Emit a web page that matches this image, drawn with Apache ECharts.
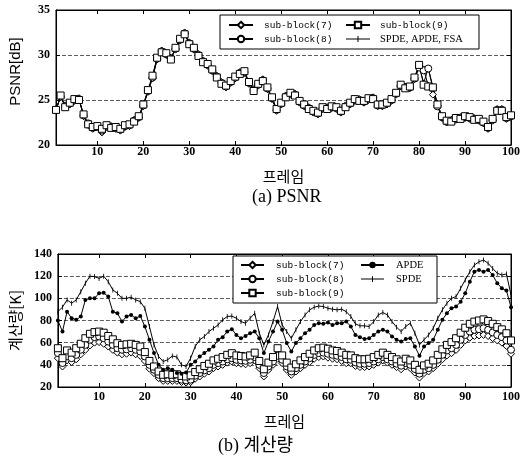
<!DOCTYPE html>
<html>
<head>
<meta charset="utf-8">
<script src="https://cdn.jsdelivr.net/npm/echarts@6/dist/echarts.min.js"></script>
<style>html,body{margin:0;padding:0;background:#fff}#c{width:523px;height:461px}</style>
</head>
<body>
<div id="c"></div>
<script>
// ---------- DATA ----------
const frames = Array.from({length: 100}, (_, i) => i + 1);
const xTickLabels = [10, 20, 30, 40, 50, 60, 70, 80, 90, 100];

// (a) PSNR [dB]
const psnrSub7 = [24.0,25.3,24.4,24.5,24.9,25.2,23.2,22.2,21.8,22.1,
 21.4,22.0,22.1,21.8,21.6,22.0,22.1,22.8,23.0,24.3,
 25.9,27.4,29.5,30.5,30.0,29.7,30.6,31.6,32.5,31.4,
 30.6,30.1,29.4,28.8,28.2,27.7,27.0,26.4,26.9,27.4,
 28.1,28.0,26.8,26.2,26.6,27.3,26.2,25.1,23.8,24.5,
 25.5,25.6,25.7,24.7,24.3,24.2,23.6,23.4,24.0,24.2,
 24.1,24.0,23.6,24.4,24.5,24.9,25.1,24.7,25.0,25.3,
 24.3,24.3,24.5,24.9,25.6,26.5,26.5,26.3,27.3,28.7,
 28.4,26.6,25.6,24.4,23.0,22.5,22.8,22.8,23.1,23.0,
 22.9,23.0,22.7,22.4,21.8,22.7,24.0,24.0,22.9,23.1];
const psnrSub8 = [23.9,25.4,24.3,24.6,25.0,25.1,23.3,22.4,21.9,22.0,
 21.6,22.1,22.0,21.9,21.7,22.1,22.2,22.7,23.1,24.4,
 26.0,27.5,29.6,30.4,30.1,29.6,30.7,31.7,32.4,31.3,
 30.7,30.0,29.3,28.9,28.3,27.6,26.9,26.5,27.0,27.5,
 28.0,28.1,26.9,26.1,26.7,27.2,26.3,25.2,23.9,24.6,
 25.4,25.7,25.6,24.8,24.4,24.1,23.7,23.5,24.1,24.1,
 24.2,24.1,23.7,24.3,24.6,25.0,25.0,24.8,25.1,25.2,
 24.4,24.4,24.6,25.0,25.7,26.6,26.4,26.4,27.4,28.6,
 28.3,28.5,26.3,24.3,23.1,22.6,22.7,22.9,23.0,23.1,
 23.0,22.9,22.8,22.5,21.9,22.8,23.9,23.9,23.0,23.2];
const psnrSub9 = [23.9,25.5,24.2,24.7,25.1,25.0,23.4,22.3,22.0,22.1,
 21.8,22.2,21.9,22.0,21.8,22.2,22.3,22.6,23.2,24.5,
 26.1,27.7,29.7,30.3,30.2,29.5,30.8,31.8,32.3,31.2,
 30.8,29.9,29.2,29.0,28.4,27.5,26.8,26.6,27.1,27.6,
 27.9,28.2,27.0,26.0,26.8,27.1,26.4,25.3,24.0,24.7,
 25.3,25.8,25.5,24.9,24.5,24.0,23.8,23.6,24.2,24.0,
 24.3,24.2,23.8,24.2,24.7,25.1,24.9,24.9,25.2,25.1,
 24.5,24.5,24.7,25.1,25.8,26.7,26.3,26.5,27.5,28.9,
 26.7,26.5,26.4,24.5,23.2,22.7,22.6,23.0,22.9,23.2,
 23.1,22.8,22.9,22.6,22.0,22.9,23.8,23.8,23.1,23.3];
const psnrFull = [23.9,25.4,24.3,24.6,25.0,25.1,23.3,22.3,21.9,22.0,
 21.6,22.1,22.0,21.9,21.7,22.1,22.2,22.7,23.1,24.4,
 26.0,27.6,29.6,30.4,30.1,29.6,30.7,31.7,32.4,31.3,
 30.7,30.0,29.3,28.9,28.3,27.6,26.9,26.5,27.0,27.5,
 28.0,28.1,26.9,26.1,26.7,27.2,26.3,25.2,23.9,24.6,
 25.4,25.7,25.6,24.8,24.4,24.1,23.7,23.5,24.1,24.1,
 24.2,24.1,23.7,24.3,24.6,25.0,25.0,24.8,25.1,25.2,
 24.4,24.4,24.6,25.0,25.7,26.6,26.4,26.4,27.4,28.8,
 26.9,28.5,26.5,24.6,23.1,22.6,22.7,22.9,23.0,23.1,
 23.0,22.9,22.8,22.5,21.9,22.8,23.9,23.9,23.0,23.2];

// (b) computation [K]
const compSub7 = [46,38.5,44,42.5,45,49.5,53.5,57.5,60,60.5,
 59,56.5,53.5,51,49.5,50,51,49.5,48,43.5,
 36.5,32.5,28,25.5,25.5,25.5,25.5,24.5,24,24.5,
 27.5,29.5,32,34,37,38.5,40,42,43,41.5,
 41,40.5,41.5,44,37,29.5,35.5,40,45.5,41.5,
 35.5,31,34,37,40,42.5,45.5,47,47.5,46.5,
 45.5,45,43.5,41.5,41.5,39,38,38,38.5,40,
 42,44,42,40,38,36,38.5,37,33,28.5,
 32.5,34,37,41,45,48.5,50.5,53.5,58,62,
 64.5,66,66.5,67,66,64,62,60,57,50];
const compSub8 = [50.6,41.6,47.6,46,49,53.6,58,62.6,65,65.6,
 64,61,58,55,53.6,54,55,53.6,52,47.6,
 40,35.6,31,28,28,28,28,26.6,26,26.6,
 30.2,32.6,35,37,40,41.6,43,45,46,44.6,
 44,43.6,44.6,47,40,32.6,38.6,43,48.2,44.6,
 38.6,34,37,40,43,46,49,50.6,51,50,
 49,48.2,47,45,44.6,42.2,41,41,41.6,43,
 45,47,45,43,41,39.2,41.6,40,36.2,32,
 35.6,37,40,44.6,49,53,55,58,62.6,67,
 70,71.6,72.2,73,71.6,69.2,67,65,62,53.6];
const compSub9 = [55,46,53,51,55,59,64,68,69.5,70,
 69,66,63,59.5,58,58.5,59,58,56.5,51.5,
 43.5,38.5,34,31,31.5,31,31.5,30,29.5,30.5,
 33.5,36,39,41,44,45.5,47,49,50.5,48.5,
 48,47.5,48.5,51,43.5,36,42,47,55,48.5,
 42,37.5,40.5,44,47,50,53,55,55.5,54.5,
 53,52.5,51,49,48.5,46,45,45,45.5,47,
 49,51,49,47,45,43,45.5,44,40,35.5,
 39.5,41,44,49,54,58,60.5,64,69,73.5,
 77,79,80,81,79.5,77,74,72,68.5,62];
const compAPDE = [80,70,88,82,80.6,83.6,98.6,100,100,104.6,
 105,101.6,88,86.6,79,83.6,85,82,84,74.6,
 62.6,50.6,40,35.6,37,35.6,32.6,32,33,40,
 43,47.6,50.6,53.6,56.6,62.6,65,70,72.2,67,
 64,66,68.6,70,64,50.6,61,70,79,71.6,
 59.6,52,59.6,64,68.6,71.6,76,77.6,77,78.2,
 76,77.6,77.6,79,74.6,67,65,63.2,64,67,
 70,71.6,70,65.6,62.6,61,63.2,64,56.6,48.2,
 56.6,59.6,62.6,71.6,80.6,86.6,91,92.6,97,104.6,
 115,124,125.6,124,125.6,121,113.6,109,107,92];
const compSPDE = [88,92,98.6,95.6,98.6,106,113.6,120,119.6,118,
 120,115,107.6,104.6,100,100,101,98.6,97,91,
 74.6,58,47.6,43,44.6,48,47,40,38.6,46,
 56.6,62.6,65.6,70,73,76,80.6,83.6,84,82,
 79,77.6,82,86.6,68.6,58,67,79,92.6,76,
 70,64,71.6,79,85,89.6,92,93,92.6,91,
 90.2,89.6,90.2,88,83.6,77,75.2,75.2,74.6,79,
 85,87.2,85,79,74,70,74.6,77.6,68.6,58,
 62.6,67,73,82,89.6,95.6,100,101.6,109,116.6,
 124,130,133,134.6,131.6,127,122.6,121,122,103];

// ---------- CHART ----------
const pairs = vals => vals.map((v, i) => [frames[i], v]);
const chart = echarts.init(document.getElementById('c'), null, {renderer: 'canvas'});
const BLACK = '#000';
const TICK = 'path://M0,0h1v6h-1z';
const TICK_LEGEND = 'path://M0,3h24v1h-24zM11.5,0.5h1v6h-1z';
const numFont = {color: BLACK, fontFamily: 'Liberation Serif', fontWeight: 'bold', fontSize: 12};
const gridLine = {show: true, lineStyle: {color: '#333', type: [4, 2], width: 0.8}};

function xMain(gi, margin, name) {
  return {type: 'value', gridIndex: gi, min: 1, max: 100, position: 'bottom',
    axisLine: {lineStyle: {color: BLACK}},
    axisTick: {inside: true, length: 4, customValues: xTickLabels, lineStyle: {color: BLACK}},
    axisLabel: Object.assign({margin: margin, customValues: xTickLabels}, numFont),
    splitLine: {show: false},
    name: name, nameLocation: 'middle', nameGap: margin + 23,
    nameTextStyle: {color: BLACK, fontFamily: 'Noto Sans CJK KR', fontSize: 15}};
}
function xMirror(gi) {
  return {type: 'value', gridIndex: gi, min: 1, max: 100, position: 'top',
    axisLine: {lineStyle: {color: BLACK}},
    axisTick: {inside: true, length: 4, customValues: xTickLabels, lineStyle: {color: BLACK}},
    axisLabel: {show: false}, splitLine: {show: false}};
}
function yMain(gi, min, max, interval, name, font, shift) {
  return {type: 'value', gridIndex: gi, min: min, max: max, interval: interval, position: 'left',
    axisLine: {show: true, lineStyle: {color: BLACK}},
    axisTick: {show: true, inside: true, length: 4, lineStyle: {color: BLACK}},
    axisLabel: Object.assign({margin: 6}, numFont),
    splitLine: gridLine,
    name: name, nameLocation: 'middle', nameGap: 33,
    nameTextStyle: {color: BLACK, fontFamily: font, fontSize: 15, padding: [0, 0, 0, shift]}};
}
function yMirror(gi, min, max, interval) {
  return {type: 'value', gridIndex: gi, min: min, max: max, interval: interval, position: 'right',
    axisLine: {show: true, lineStyle: {color: BLACK}},
    axisTick: {show: true, inside: true, length: 4, lineStyle: {color: BLACK}},
    axisLabel: {show: false}, splitLine: {show: false}};
}
function hollow(name, data, symbol, xi, yi) {
  return {name: name, type: 'line', xAxisIndex: xi, yAxisIndex: yi, data: pairs(data),
    symbol: symbol, symbolSize: 7, showAllSymbol: true,
    lineStyle: {color: BLACK, width: 1},
    itemStyle: {color: '#fff', borderColor: BLACK, borderWidth: 1}};
}
function ticked(name, data, symbol, size, xi, yi) {
  return {name: name, type: 'line', xAxisIndex: xi, yAxisIndex: yi, data: pairs(data),
    symbol: symbol, symbolSize: size, symbolKeepAspect: true, showAllSymbol: true,
    lineStyle: {color: BLACK, width: 1},
    itemStyle: {color: BLACK, borderColor: BLACK, borderWidth: 0}};
}
const monoTxt = {fontFamily: 'Liberation Mono', fontSize: 9.5, color: BLACK};
const serifTxt = {fontFamily: 'Liberation Serif', fontSize: 10.5, color: BLACK};
function legendCol(names, left, top, itemWidth, pad) {
  return {data: names, left: left, top: top, orient: 'vertical', itemWidth: itemWidth, itemHeight: 8,
    itemGap: 2, z: 6, selectedMode: false, padding: 0, symbolKeepAspect: true,
    formatter: n => (n.indexOf('sub') === 0 ? '{m|' + n + '}' : '{s|' + n + '}'),
    textStyle: {lineHeight: 12, padding: [0, 0, 0, pad],
      rich: {m: Object.assign({lineHeight: 12}, monoTxt), s: Object.assign({lineHeight: 12}, serifTxt)}}};
}

chart.setOption({
  animation: false,
  backgroundColor: '#fff',
  grid: [
    {left: 53, top: 10, width: 462, height: 135, show: true, borderColor: BLACK, borderWidth: 1, backgroundColor: '#fff'},
    {left: 53, top: 254, width: 462, height: 133, show: true, borderColor: BLACK, borderWidth: 1, backgroundColor: '#fff'}
  ],
  xAxis: [xMain(0, 1, '프레임'), xMirror(0), xMain(1, 4, '프레임'), xMirror(1)],
  yAxis: [yMain(0, 20, 35, 5, 'PSNR[dB]', 'Liberation Sans', 12), yMirror(0, 20, 35, 5),
          yMain(1, 20, 140, 20, '계산량[K]', 'Noto Sans CJK KR', 0), yMirror(1, 20, 140, 20)],
  legend: [
    legendCol(['sub-block(7)', 'sub-block(8)'], 228, 19, 24, 6),
    legendCol(['sub-block(9)', {name: 'SPDE, APDE, FSA', icon: TICK_LEGEND}], 345, 19, 24, 5),
    legendCol(['sub-block(7)', 'sub-block(8)', 'sub-block(9)'], 240, 259, 23, 7),
    legendCol(['APDE', {name: 'SPDE', icon: TICK_LEGEND}], 360, 259, 23, 7)
  ],
  graphic: [
    {type: 'rect', z: 5, shape: {x: 220, y: 15, width: 259, height: 34}, style: {fill: '#fff', stroke: BLACK, lineWidth: 1}},
    {type: 'rect', z: 5, shape: {x: 233, y: 256, width: 204, height: 47}, style: {fill: '#fff', stroke: BLACK, lineWidth: 1}},
    {type: 'text', z: 5, left: 252, top: 188, style: {text: '(a) PSNR', font: "18px 'Liberation Serif'", fill: BLACK}},
    {type: 'text', z: 5, left: 218, top: 437, style: {text: '(b) 계산량', font: "18px 'Liberation Serif', 'Noto Sans CJK KR'", fill: BLACK}}
  ],
  series: [
    ticked('SPDE, APDE, FSA', psnrFull, TICK, 6, 0, 0),
    hollow('sub-block(7)', psnrSub7, 'diamond', 0, 0),
    hollow('sub-block(8)', psnrSub8, 'circle', 0, 0),
    hollow('sub-block(9)', psnrSub9, 'rect', 0, 0),
    hollow('sub-block(7)', compSub7, 'diamond', 2, 2),
    hollow('sub-block(8)', compSub8, 'circle', 2, 2),
    hollow('sub-block(9)', compSub9, 'rect', 2, 2),
    ticked('APDE', compAPDE, 'circle', 4, 2, 2),
    ticked('SPDE', compSPDE, TICK, 5, 2, 2)
  ]
});
</script>
</body>
</html>
